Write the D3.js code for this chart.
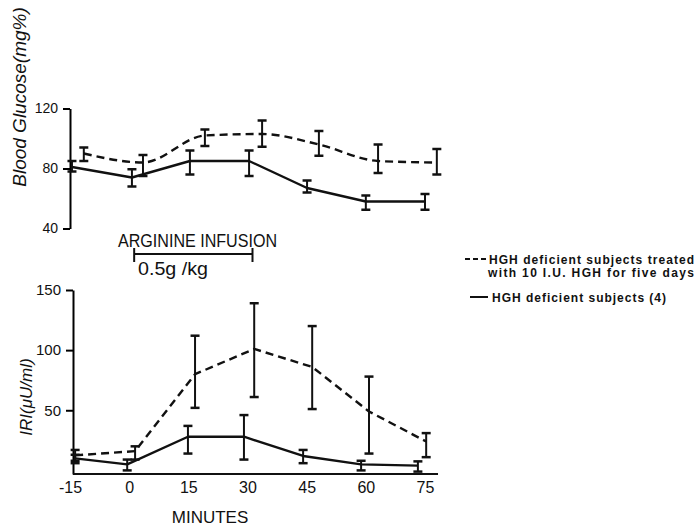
<!DOCTYPE html>
<html>
<head>
<meta charset="utf-8">
<script src="https://cdn.jsdelivr.net/npm/d3@7"></script>
<style>
  body { margin: 0; background: #fff; }
  text { font-family: "Liberation Sans", Arial, sans-serif; fill: #111; }
</style>
</head>
<body>
<div id="chart"></div>
<script>
// tick labels
var minuteTicks = [-15, 0, 15, 30, 45, 60, 75]
var glucoseTicks = [40, 80, 120]
var iriTicks = [50, 100, 150]

// blood glucose, treated (dashed) - points are plotted slightly shifted
var gTreatedT = [-11.5, 3.5, 19.2, 33.7, 48.1, 63.1, 78]
var gTreated = [90, 84, 102, 103, 96, 85, 84]
var gTreatedLo = [85, 75, 95, 94.5, 88.5, 77, 76]
var gTreatedHi = [94, 89, 106, 112, 105, 96, 93]

// blood glucose, deficient (solid)
var gDefT = [-14.5, 0.7, 15.4, 30.4, 45.1, 60, 75]
var gDef = [81, 74, 85, 85, 67, 58, 58]
var gDefLo = [78, 68, 76, 75, 64, 52.5, 52.5]
var gDefHi = [85, 79.5, 92, 92, 72, 62, 63]

// IRI, treated (dashed)
var iTreatedT = [-13.7, 1.5, 16.7, 31.7, 46.4, 60.8, 75.3]
var iTreated = [12.5, 16, 80, 101, 86, 49, 24]
var iTreatedLo = [8, 9, 52, 61, 51, 14, 11]
var iTreatedHi = [17, 20, 112, 139, 120, 78, 31]

// IRI, deficient (solid)
var iDefT = [-13.7, -0.5, 14.9, 29.1, 44.1, 58.8, 73.2]
var iDef = [10, 5, 28, 28, 12, 5, 4]
var iDefLo = [6, 0, 14, 9, 6, 0, -1]
var iDefHi = [13, 9, 37, 46, 17, 8, 7.5]

// infusion period (minutes)
var infusion = [0, 30]

var w = 696,
    h = 526

var svg = d3.select('#chart')
    .append('svg')
    .attr('width', w)
    .attr('height', h)

svg.append('rect').attr('width', w).attr('height', h).attr('fill', '#fff')

var x = d3.scaleLinear()
    .domain([-15, 75])
    .range([70, 425])

var yTop = d3.scaleLinear()
    .domain([40, 120])
    .range([228.5, 108.5])

var yBot = d3.scaleLinear()
    .domain([-3, 150])
    .range([474, 290])

function zip(t, v, lo, hi) {
    return t.map((d, i) => ({ t: d, v: v[i], lo: lo[i], hi: hi[i] }))
}

function drawSeries(data, y, dashed, curve) {
    var line = d3.line()
        .x(d => x(d.t))
        .y(d => y(d.v))
        .curve(curve)

    svg.append('path')
        .datum(data)
        .attr('d', line)
        .attr('fill', 'none')
        .attr('stroke', '#111')
        .attr('stroke-width', 2.4)
        .attr('stroke-linejoin', 'round')
        .attr('stroke-dasharray', dashed ? '8,5' : null)

    var g = svg.append('g')
        .attr('stroke', '#111')
        .attr('fill', 'none')
    data.forEach(function (d) {
        g.append('line')
            .attr('x1', x(d.t)).attr('x2', x(d.t))
            .attr('y1', y(d.lo)).attr('y2', y(d.hi))
            .attr('stroke-width', 2)
        ;[d.lo, d.hi].forEach(function (e) {
            g.append('line')
                .attr('x1', x(d.t) - 4.5).attr('x2', x(d.t) + 4.5)
                .attr('y1', y(e)).attr('y2', y(e))
                .attr('stroke-width', 2.5)
        })
    })
}

// top axis
var topAxis = svg.append('g')
    .attr('transform', 'translate(70,0)')
    .call(d3.axisLeft(yTop).tickValues(glucoseTicks).tickSize(7).tickSizeOuter(0).tickPadding(5).tickFormat(d => String(d)))
topAxis.select('.domain').attr('stroke-width', 2)
topAxis.selectAll('.tick line').attr('stroke-width', 2)
topAxis.selectAll('text').style('font-size', '14px').attr('fill', '#111')

// bottom axes
var botAxis = svg.append('g')
    .attr('transform', 'translate(73,0)')
    .call(d3.axisLeft(yBot).tickValues(iriTicks).tickSize(7).tickSizeOuter(0).tickPadding(5).tickFormat(d => String(d)))
botAxis.select('.domain').attr('stroke-width', 2)
botAxis.selectAll('.tick line').attr('stroke-width', 2)
botAxis.selectAll('text').style('font-size', '15px').attr('fill', '#111')

var xAxis = svg.append('g')
    .attr('transform', `translate(0,${yBot(-3)})`)
    .call(d3.axisBottom(x).tickValues(minuteTicks).tickSize(0).tickPadding(8).tickFormat(d => String(d)))
xAxis.select('.domain').remove()
xAxis.selectAll('text').style('font-size', '16px').attr('fill', '#111')
svg.append('line')
    .attr('x1', 73).attr('x2', x(78.3))
    .attr('y1', yBot(-3)).attr('y2', yBot(-3))
    .attr('stroke', '#111')
    .attr('stroke-width', 2)

// series
drawSeries(zip(gTreatedT, gTreated, gTreatedLo, gTreatedHi), yTop, true, d3.curveMonotoneX)
drawSeries(zip(gDefT, gDef, gDefLo, gDefHi), yTop, false, d3.curveLinear)
drawSeries(zip(iTreatedT, iTreated, iTreatedLo, iTreatedHi), yBot, true, d3.curveLinear)
drawSeries(zip(iDefT, iDef, iDefLo, iDefHi), yBot, false, d3.curveLinear)

// axis titles
svg.append('text')
    .text('Blood Glucose(mg%)')
    .attr('text-anchor', 'middle')
    .attr('transform', 'translate(26,97) rotate(-90)')
    .style('font-size', '19px')
    .style('font-style', 'italic')

svg.append('text')
    .text('IRI(μU/ml)')
    .attr('text-anchor', 'middle')
    .attr('transform', 'translate(32,397) rotate(-90)')
    .style('font-size', '17px')
    .style('font-style', 'italic')

svg.append('text')
    .text('MINUTES')
    .attr('text-anchor', 'middle')
    .attr('x', 210)
    .attr('y', 523)
    .style('font-size', '17px')

// infusion marker
svg.append('text')
    .text('ARGININE INFUSION')
    .attr('x', 118)
    .attr('y', 247)
    .attr('textLength', 159)
    .attr('lengthAdjust', 'spacingAndGlyphs')
    .style('font-size', '18px')

var inf = svg.append('g')
    .attr('transform', 'translate(5,0)')
    .attr('stroke', '#111')
    .attr('stroke-width', 2)
inf.append('line')
    .attr('x1', x(infusion[0])).attr('x2', x(infusion[1]))
    .attr('y1', 254).attr('y2', 254)
infusion.forEach(function (m) {
    inf.append('line')
        .attr('x1', x(m)).attr('x2', x(m))
        .attr('y1', 248).attr('y2', 262)
})

svg.append('text')
    .text('0.5g /kg')
    .attr('x', 138)
    .attr('y', 275)
    .attr('textLength', 70)
    .attr('lengthAdjust', 'spacingAndGlyphs')
    .style('font-size', '18px')

// legend
svg.append('line')
    .attr('x1', 465).attr('x2', 488)
    .attr('y1', 259).attr('y2', 259)
    .attr('stroke', '#111')
    .attr('stroke-width', 2)
    .attr('stroke-dasharray', '5,3')

svg.append('text')
    .text('HGH deficient subjects treated')
    .attr('x', 489)
    .attr('y', 264)
    .attr('textLength', 205)
    .style('font-size', '12px')
    .style('font-weight', 'bold')

svg.append('text')
    .text('with 10 I.U. HGH for five days')
    .attr('x', 488)
    .attr('y', 277)
    .attr('textLength', 206)
    .style('font-size', '12px')
    .style('font-weight', 'bold')

svg.append('line')
    .attr('x1', 470).attr('x2', 488)
    .attr('y1', 297).attr('y2', 297)
    .attr('stroke', '#111')
    .attr('stroke-width', 2)

svg.append('text')
    .text('HGH deficient subjects (4)')
    .attr('x', 492)
    .attr('y', 302)
    .attr('textLength', 174)
    .style('font-size', '12px')
    .style('font-weight', 'bold')
</script>
</body>
</html>
